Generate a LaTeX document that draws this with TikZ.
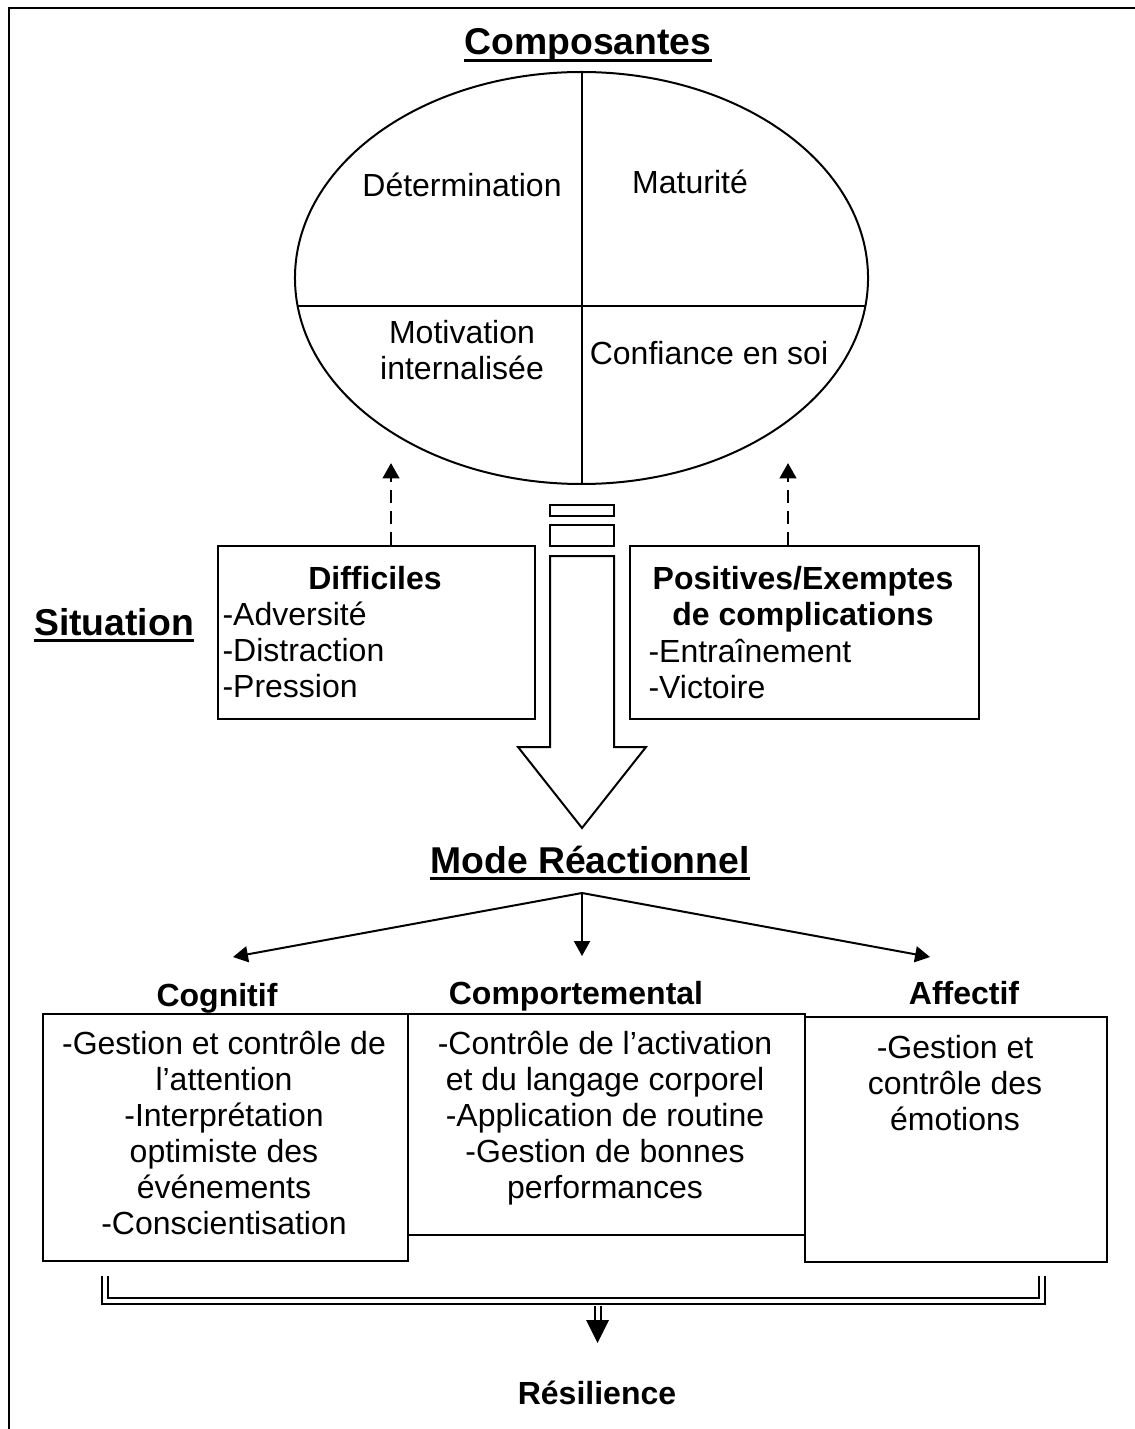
\documentclass[tikz,border=0pt]{standalone}
\usepackage{fontspec}
\setmainfont{Liberation Sans}
\usetikzlibrary{arrows.meta,shapes.geometric}
\newcommand\bodyfont{\fontsize{12}{13.5}\selectfont}
\newcommand\headfont{\fontsize{14}{16.8}\selectfont\bfseries}
\newcommand\firstline{\rule{0pt}{12pt}}
\begin{document}
\begin{tikzpicture}[x=0.375pt,y=-0.375pt,
  line/.style={line width=0.75pt},
  frameline/.style={line width=1.1pt},
  box/.style={draw,line width=0.75pt,inner sep=0,anchor=north west},
  lbl/.style={inner sep=0,anchor=base,font=\bodyfont},
  blk/.style={inner sep=0,anchor=north,align=center,font=\bodyfont},
  lst/.style={inner sep=0,anchor=north west,align=left,font=\bodyfont},
  sub/.style={inner sep=0,anchor=base,font=\bodyfont\bfseries},
  head/.style={inner sep=0,anchor=base,font=\headfont},
  uline/.style={line width=1pt},
  arr/.style={line width=0.75pt,-{Triangle[length=5.6pt,width=6pt]}},
  dasharr/.style={line width=1.1pt,dash pattern=on 4.9pt off 3pt,-{Triangle[length=5.8pt,width=6.2pt]}},
  dbl/.style={double,double distance=1.5pt,line width=0.75pt}]
\useasboundingbox (0,0) rectangle (1135,1429);

% outer frame (top and left edges)
\draw[frameline] (9,1429) -- (9,8) -- (1135,8);

% ---- Composantes ----
\node[head] (tComp) at (588,55) {Composantes};
\draw[uline] ([yshift=-2pt]tComp.base west) -- ([yshift=-2pt]tComp.base east);

\node[draw,line,ellipse,inner sep=0,minimum width=214.9pt,minimum height=154.5pt] (comp) at (581.5,278) {};
\draw[line] (582,72) -- (582,484);
\draw[line] (297.7,306) -- (865.3,306);

\node[lbl] (det) at (462,197) {Détermination};
\node[lbl] (mat) at (690,194) {Maturité};
\node[blk] (mot) at (462,311) {\firstline Motivation\\internalisée};
\node[lbl] (conf) at (709,365) {Confiance en soi};

% ---- Situation ----
\node[head] (tSit) at (114,635) {Situation};
\draw[uline] ([yshift=-2pt]tSit.base west) -- ([yshift=-2pt]tSit.base east);

\node[box,minimum width=118.9pt,minimum height=64.9pt] (diff) at (217,545) {};
\node[sub] (diffT) at (375,589) {Difficiles};
\node[lst] (diffL) at (222,593) {\firstline -Adversité\\-Distraction\\-Pression};

\node[box,minimum width=130.9pt,minimum height=64.9pt] (pos) at (629,545) {};
\node[blk,font=\bodyfont\bfseries] (posT) at (803,557) {\firstline Positives/Exemptes\\de complications};
\node[lst] (posL) at (648,630) {\firstline -Entraînement\\-Victoire};

\coordinate (tipL) at (391,463);
\coordinate (tipR) at (788,463);
\draw[dasharr] (tipL |- diff.north) -- (tipL);
\draw[dasharr] (tipR |- pos.north) -- (tipR);

% ---- block arrow from the components to the reaction mode ----
\draw[line] (550,505) rectangle (614,516);
\draw[line] (550,525) rectangle (614,546);
\draw[line,fill=white] (550,556) -- (614,556) -- (614,747) -- (646,747)
  -- (582,828) -- (518,747) -- (550,747) -- cycle;

% ---- Mode Reactionnel ----
\node[head] (tMode) at (590,873) {Mode Réactionnel};
\draw[uline] ([yshift=-2pt]tMode.base west) -- ([yshift=-2pt]tMode.base east);

\coordinate (split) at (582,893);
\coordinate (tipCog) at (233,957);
\coordinate (tipComp) at (582,956);
\coordinate (tipAff) at (930,957);
\draw[arr] (split) -- (tipCog);
\draw[arr] (split) -- (tipComp);
\draw[arr] (split) -- (tipAff);

\node[sub] (hCog) at (217,1006) {Cognitif};
\node[sub] (hComp) at (576,1004) {Comportemental};
\node[sub] (hAff) at (964,1004) {Affectif};

\node[box,minimum width=136.9pt,minimum height=92.6pt] (bCog) at (42,1013) {};
\node[box,minimum width=148.9pt,minimum height=82.9pt] (bComp) at (407,1013) {};
\node[box,minimum width=113.3pt,minimum height=91.9pt] (bAff) at (804,1016) {};

\node[blk] (xCog) at (224,1022) {\firstline -Gestion et contrôle de\\l’attention\\-Interprétation\\optimiste des\\événements\\-Conscientisation};
\node[blk] (xComp) at (605,1022) {\firstline -Contrôle de l’activation\\et du langage corporel\\-Application de routine\\-Gestion de bonnes\\performances};
\node[blk] (xAff) at (955,1026) {\firstline -Gestion et\\contrôle des\\émotions};

% ---- convergence towards resilience ----
\coordinate (bl) at (105,1276);
\coordinate (br) at (1041.5,1276);
\coordinate (join) at (597.5,1301);
\draw[dbl] (bl) |- (join) -| (br);
\draw[dbl] (597.5,1306) -- (597.5,1321);
\coordinate (tipRes) at (597.5,1343);
\fill (586,1320) -- (609,1320) -- (tipRes) -- cycle;

\node[sub] (res) at (597,1404) {Résilience};
\end{tikzpicture}
\end{document}
